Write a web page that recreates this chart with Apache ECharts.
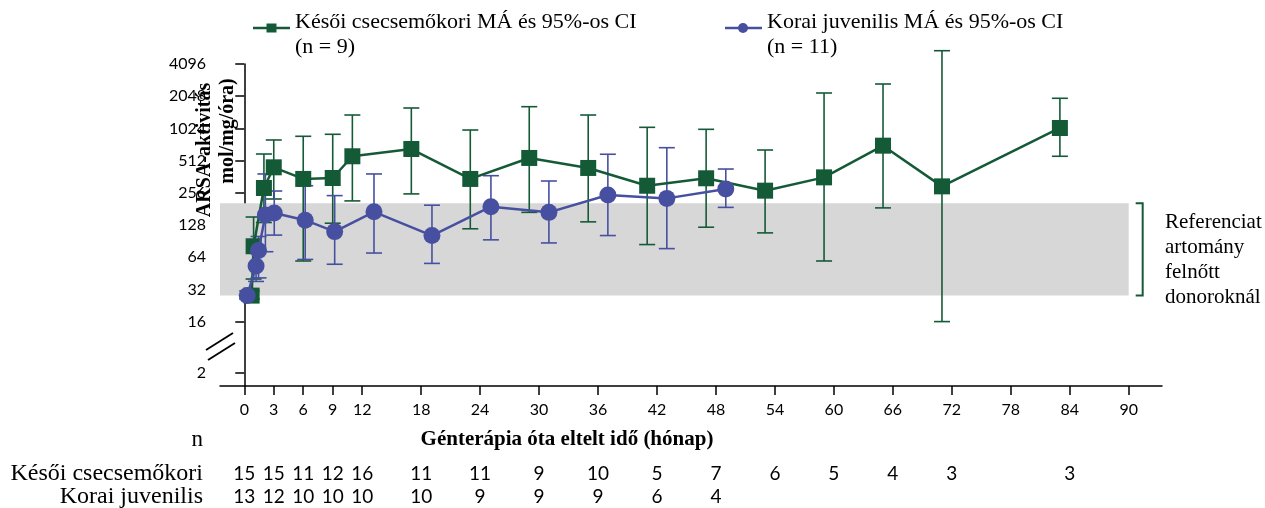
<!DOCTYPE html>
<html><head><meta charset="utf-8">
<script src="https://cdn.jsdelivr.net/npm/echarts@6/dist/echarts.min.js"></script>
<style>html,body{margin:0;padding:0;background:#fff}#c{width:1265px;height:508px}</style>
</head><body><div id="c"></div>
<script>
// ---- data ----
const xTicks = [0, 3, 6, 9, 12, 18, 24, 30, 36, 42, 48, 54, 60, 66, 72, 78, 84, 90];
const yTickLabels = [2, 16, 32, 64, 128, 256, 512, 1024, 2048, 4096];

const lateName = 'Késői csecsemőkori MÁ és 95%-os CI';
const lateNote = '(n = 9)';
const lateMonths = [0.75, 0.95, 2, 3, 6, 9, 11, 17, 23, 29, 35, 41, 47, 53, 59, 65, 71, 83];
const lateMean   = [28, 81, 284, 443, 345, 352, 562, 657, 345, 542, 437, 298, 350, 268, 357, 706, 294, 1033];
const lateLower  = [26, 40, 135, 224, 59, 133, 215, 250, 118, 168, 137, 84, 122, 108, 59, 185, 16, 562];
const lateUpper  = [31, 152, 590, 798, 864, 902, 1366, 1589, 989, 1634, 1366, 1048, 1004, 643, 2194, 2663, 5453, 1958];

const juvName = 'Korai juvenilis MÁ és 95%-os CI';
const juvNote = '(n = 11)';
const juvMonths = [0.3, 1.2, 1.45, 2.15, 3.05, 6.2, 9.2, 13.2, 19.1, 25.1, 31, 37, 43, 49];
const juvMean   = [28, 53, 74, 159, 166, 142, 111, 170, 102, 190, 168, 244, 227, 278];
const juvLower  = [26, 38, 41, 72, 103, 61, 55, 70, 56, 93, 87, 102, 77, 187];
const juvUpper  = [31, 75, 100, 384, 266, 298, 241, 384, 196, 370, 330, 587, 676, 427];

const refRange = [28, 204];
const refText = 'Referenciat\nartomány\nfelnőtt\ndonoroknál';

const yTitle1 = 'ARSA-aktivitás';
const yTitle2 = 'mol/mg/óra)';
const xTitle = 'Génterápia óta eltelt idő (hónap)';

const tableMonthsLate = [0, 3, 6, 9, 12, 18, 24, 30, 36, 42, 48, 54, 60, 66, 72, 84];
const lateN = [15, 15, 11, 12, 16, 11, 11, 9, 10, 5, 7, 6, 5, 4, 3, 3];
const tableMonthsJuv = [0, 3, 6, 9, 12, 18, 24, 30, 36, 42, 48];
const juvN = [13, 12, 10, 10, 10, 10, 9, 9, 9, 6, 4];
const rowLabelLate = 'Késői csecsemőkori';
const rowLabelJuv = 'Korai juvenilis';

// ---- styling ----
const GREEN = '#155a37';
const BLUE = '#474fa1';
const SERIF = '"Liberation Serif", "Times New Roman", serif';
const SANS = 'Lato, "Noto Sans", sans-serif';
const BREAK_SHIFT = 1.4; // axis break: values below 12 are shifted up

function yPos(v) { const l = Math.log2(v); return v >= 12 ? l : l + BREAK_SHIFT; }

function errRender(color) {
  return function (params, api) {
    const x = api.value(0);
    const a = api.coord([x, api.value(1)]);
    const b = api.coord([x, api.value(2)]);
    const w = 8;
    const st = { stroke: color, lineWidth: 1.6 };
    return { type: 'group', children: [
      { type: 'line', shape: { x1: a[0], y1: a[1], x2: b[0], y2: b[1] }, style: st },
      { type: 'line', shape: { x1: a[0] - w, y1: a[1], x2: a[0] + w, y2: a[1] }, style: st },
      { type: 'line', shape: { x1: b[0] - w, y1: b[1], x2: b[0] + w, y2: b[1] }, style: st }
    ] };
  };
}

const chart = echarts.init(document.getElementById('c'), null, { renderer: 'canvas' });
const X_MIN = -2.47, X_MAX = 93.39;

chart.setOption({
  animation: false,
  grid: { left: 220, top: 64, width: 942, height: 322 },
  xAxis: {
    type: 'value', min: X_MIN, max: X_MAX,
    splitLine: { show: false },
    axisLine: { show: true, lineStyle: { color: '#000', width: 1.5 } },
    axisTick: { show: true, customValues: xTicks, length: 9, lineStyle: { color: '#000', width: 1.5 } },
    axisLabel: { customValues: xTicks, margin: 16, color: '#000', fontSize: 16, fontFamily: SANS }
  },
  yAxis: {
    type: 'value', min: 2, max: 12,
    splitLine: { show: false },
    axisLine: { show: true, lineStyle: { color: '#000', width: 1.5 } },
    axisTick: { show: true, customValues: yTickLabels.map(yPos), length: 9, lineStyle: { color: '#000', width: 1.5 } },
    axisLabel: {
      customValues: yTickLabels.map(yPos), margin: 14, color: '#000', fontSize: 16, fontFamily: SANS,
      formatter: function (v) {
        let best = yTickLabels[0];
        yTickLabels.forEach(t => { if (Math.abs(yPos(t) - v) < Math.abs(yPos(best) - v)) best = t; });
        return String(best);
      }
    }
  },
  series: [
    {
      type: 'line', data: [], z: 0, silent: true,
      markArea: {
        silent: true,
        itemStyle: { color: '#d7d7d7' },
        data: [[{ coord: [X_MIN, yPos(refRange[0])] }, { coord: [90, yPos(refRange[1])] }]]
      }
    },
    {
      type: 'custom', renderItem: errRender(GREEN), silent: true, z: 2,
      data: lateMonths.map((m, i) => [m, yPos(lateLower[i]), yPos(lateUpper[i])]),
      encode: { x: 0, y: [1, 2] }
    },
    {
      type: 'custom', renderItem: errRender(BLUE), silent: true, z: 3,
      data: juvMonths.map((m, i) => [m, yPos(juvLower[i]), yPos(juvUpper[i])]),
      encode: { x: 0, y: [1, 2] }
    },
    {
      name: lateName, type: 'line', z: 4, silent: true,
      data: lateMonths.map((m, i) => [m, yPos(lateMean[i])]),
      symbol: 'rect', symbolSize: 16,
      itemStyle: { color: GREEN }, lineStyle: { color: GREEN, width: 2.5 }
    },
    {
      name: juvName, type: 'line', z: 5, silent: true,
      data: juvMonths.map((m, i) => [m, yPos(juvMean[i])]),
      symbol: 'circle', symbolSize: 17,
      itemStyle: { color: BLUE }, lineStyle: { color: BLUE, width: 2.5 }
    }
  ]
});

// ---- decorations placed with the chart's own scales ----
const px = (x, y) => chart.convertToPixel({ gridIndex: 0 }, [x, y]);
const axisX = px(X_MIN, 4)[0];
const bandTop = px(90, yPos(refRange[1]));
const bandBot = px(90, yPos(refRange[0]));
const g = [];

// legend
function legendItem(x0, name, note, symbol) {
  g.push({ type: 'line', shape: { x1: x0, y1: 28, x2: x0 + 37, y2: 28 }, style: { stroke: symbol === 'rect' ? GREEN : BLUE, lineWidth: 2.5 } });
  if (symbol === 'rect') g.push({ type: 'rect', shape: { x: x0 + 13.5, y: 23.5, width: 10, height: 9 }, style: { fill: GREEN } });
  else g.push({ type: 'circle', shape: { cx: x0 + 18, cy: 28, r: 5 }, style: { fill: BLUE } });
  g.push({ type: 'text', x: x0 + 42, y: 22, style: { text: name, fill: '#000', font: '22px ' + SERIF, verticalAlign: 'middle' } });
  g.push({ type: 'text', x: x0 + 42, y: 47, style: { text: note, fill: '#000', font: '22px ' + SERIF, verticalAlign: 'middle' } });
}
legendItem(253, lateName, lateNote, 'rect');
legendItem(725, juvName, juvNote, 'circle');

// axis break marks
g.push({ type: 'rect', shape: { x: axisX - 2, y: 341.5, width: 4, height: 10 }, style: { fill: '#fff' }, z: 100 });
g.push({ type: 'line', shape: { x1: axisX - 14, y1: 350, x2: axisX + 13, y2: 333 }, style: { stroke: '#000', lineWidth: 1.8 }, z: 101 });
g.push({ type: 'line', shape: { x1: axisX - 12, y1: 360, x2: axisX + 15, y2: 343 }, style: { stroke: '#000', lineWidth: 1.8 }, z: 101 });

// y title
g.push({ type: 'text', x: 205, y: 150, rotation: Math.PI / 2, style: { text: yTitle1, fill: '#000', font: 'bold 20px ' + SERIF, align: 'center', verticalAlign: 'middle' }, z: 50 });
g.push({ type: 'text', x: 228, y: 131, rotation: Math.PI / 2, style: { text: yTitle2, fill: '#000', font: 'bold 20px ' + SERIF, align: 'center', verticalAlign: 'middle' }, z: 50 });

// reference bracket + text
g.push({ type: 'polyline', shape: { points: [[bandTop[0] + 7, bandTop[1]], [bandTop[0] + 14, bandTop[1]], [bandTop[0] + 14, bandBot[1]], [bandTop[0] + 7, bandBot[1]]] }, style: { stroke: GREEN, lineWidth: 2, fill: null } });
g.push({ type: 'text', x: 1165, y: 210, style: { text: refText, fill: '#000', font: '21px ' + SERIF, lineHeight: 25, verticalAlign: 'top' } });

// x title, n table
g.push({ type: 'text', x: 567, y: 440, style: { text: xTitle, fill: '#000', font: 'bold 21px ' + SERIF, align: 'center', verticalAlign: 'middle' } });
g.push({ type: 'text', x: 203, y: 440, style: { text: 'n', fill: '#000', font: '23px ' + SERIF, align: 'right', verticalAlign: 'middle' } });
g.push({ type: 'text', x: 203, y: 474, style: { text: rowLabelLate, fill: '#000', font: '24px ' + SERIF, align: 'right', verticalAlign: 'middle' } });
g.push({ type: 'text', x: 203, y: 497, style: { text: rowLabelJuv, fill: '#000', font: '24px ' + SERIF, align: 'right', verticalAlign: 'middle' } });
tableMonthsLate.forEach((m, i) => {
  g.push({ type: 'text', x: px(m, 4)[0], y: 474, style: { text: String(lateN[i]), fill: '#000', font: '19px ' + SANS, align: 'center', verticalAlign: 'middle' } });
});
tableMonthsJuv.forEach((m, i) => {
  g.push({ type: 'text', x: px(m, 4)[0], y: 497, style: { text: String(juvN[i]), fill: '#000', font: '19px ' + SANS, align: 'center', verticalAlign: 'middle' } });
});

chart.setOption({ graphic: { elements: g } });
</script></body></html>
